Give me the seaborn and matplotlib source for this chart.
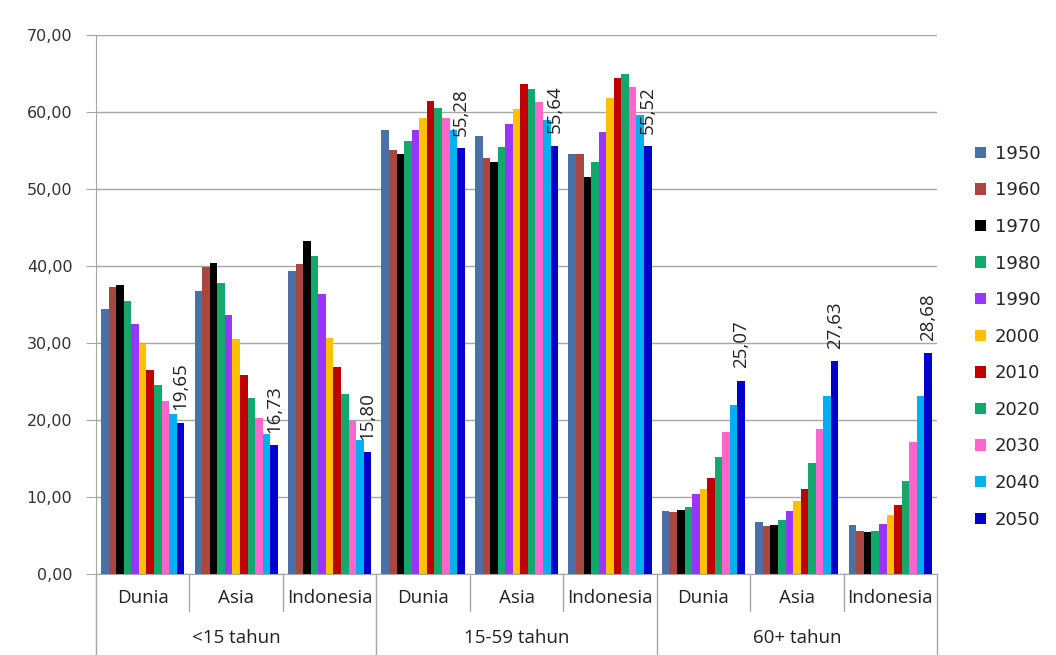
import pandas as pd
import seaborn as sns
import matplotlib.pyplot as plt
from matplotlib.ticker import FuncFormatter

years = ['1950', '1960', '1970', '1980', '1990', '2000',
         '2010', '2020', '2030', '2040', '2050']
age_groups = ['<15 tahun', '15-59 tahun', '60+ tahun']
regions = ['Dunia', 'Asia', 'Indonesia']

# values per (age group, region), one value per year
dunia_u15 = [34.4, 37.2, 37.5, 35.4, 32.5, 29.9, 26.5, 24.5, 22.4, 20.8, 19.65]
asia_u15 = [36.7, 39.9, 40.4, 37.8, 33.6, 30.5, 25.8, 22.9, 20.2, 18.1, 16.73]
indo_u15 = [39.3, 40.2, 43.2, 41.3, 36.4, 30.6, 26.9, 23.3, 19.9, 17.4, 15.80]
dunia_1559 = [57.7, 55.1, 54.5, 56.2, 57.6, 59.2, 61.4, 60.5, 59.2, 57.6, 55.28]
asia_1559 = [56.9, 54.0, 53.5, 55.4, 58.4, 60.4, 63.6, 63.0, 61.3, 59.0, 55.64]
indo_1559 = [54.6, 54.6, 51.5, 53.5, 57.4, 61.8, 64.4, 64.9, 63.3, 59.6, 55.52]
dunia_60 = [8.1, 8.0, 8.35, 8.66, 10.3, 11.0, 12.4, 15.2, 18.4, 21.9, 25.07]
asia_60 = [6.7, 6.2, 6.4, 7.0, 8.2, 9.5, 11.0, 14.4, 18.8, 23.1, 27.63]
indo_60 = [6.4, 5.5, 5.4, 5.5, 6.5, 7.7, 8.9, 12.1, 17.1, 23.1, 28.68]

colors = ['#4A70A8', '#A8463F', '#000000', '#12A86E', '#9A35FF', '#FFC000',
          '#C00000', '#12A86E', '#FF66CC', '#00B0F0', '#0000CC']


def make_chart(output_path='out.png'):
    series = [dunia_u15, asia_u15, indo_u15,
              dunia_1559, asia_1559, indo_1559,
              dunia_60, asia_60, indo_60]
    rows = []
    i = 0
    for age in age_groups:
        for reg in regions:
            for yr, v in zip(years, series[i]):
                rows.append({'cat': f'{age}|{reg}', 'region': reg,
                             'year': yr, 'value': v})
            i += 1
    df = pd.DataFrame(rows)
    cats = list(dict.fromkeys(df['cat']))

    sns.set_style("white")
    fig = plt.figure(figsize=(10.56, 6.55), dpi=100)
    ax = fig.add_axes([0.0909, 0.124, 0.7965, 0.8226])

    sns.barplot(data=df, x='cat', y='value', hue='year', order=cats,
                hue_order=years, palette=colors, saturation=1,
                width=0.89, gap=0, errorbar=None, linewidth=0, ax=ax)

    ax.set_ylim(0, 70)
    ax.set_xlim(-0.5, len(cats) - 0.5)
    ax.set_yticks(range(0, 71, 10))
    ax.yaxis.set_major_formatter(
        FuncFormatter(lambda v, p: f'{v:.2f}'.replace('.', ',')))
    ax.grid(axis='y', color='#A6A6A6', linewidth=1)
    ax.set_axisbelow(True)
    for s in ['top', 'right']:
        ax.spines[s].set_visible(False)
    for s in ['left', 'bottom']:
        ax.spines[s].set_color('#A6A6A6')
    ax.set_xlabel('')
    ax.set_ylabel('')
    ax.tick_params(axis='y', length=7, color='#A6A6A6', labelsize=11.5,
                   labelcolor='#333333', pad=10, left=True)
    ax.set_xticks(range(len(cats)))
    ax.set_xticklabels([c.split('|')[1] for c in cats])
    ax.tick_params(axis='x', length=0, pad=11, labelsize=13.5)
    narrow = ['Open Sans', 'DejaVu Sans']
    for t in ax.get_xticklabels():
        t.set_family(narrow)
        t.set_color('#222222')

    # separators of the two-level category axis
    for k in range(len(cats) + 1):
        x = k - 0.5
        ylow = -0.15 if k % 3 == 0 else -0.07
        ax.plot([x, x], [0, ylow], color='#A6A6A6', lw=1, clip_on=False,
                transform=ax.get_xaxis_transform())
    for g, age in enumerate(age_groups):
        ax.text(g * 3 + 1, -0.119, age, ha='center', va='center',
                fontsize=13.5, family=narrow, color='#222222',
                transform=ax.get_xaxis_transform())

    # value labels on the 2050 bars
    last = ax.containers[-1]
    ax.bar_label(last, labels=[f'{b.get_height():.2f}'.replace('.', ',')
                               for b in last],
                 rotation=90, padding=9, fontsize=13.5, family=narrow,
                 color='#222222')

    handles, labels = ax.get_legend_handles_labels()
    ax.legend(handles, labels, loc='center left',
              bbox_to_anchor=(1.045, 0.44), frameon=False, fontsize=13,
              handlelength=0.6, handleheight=0.6, handletextpad=0.5,
              labelspacing=1.03, borderaxespad=0, borderpad=0)

    plt.savefig(output_path, dpi=100)
    plt.close()


if __name__ == "__main__":
    make_chart()
